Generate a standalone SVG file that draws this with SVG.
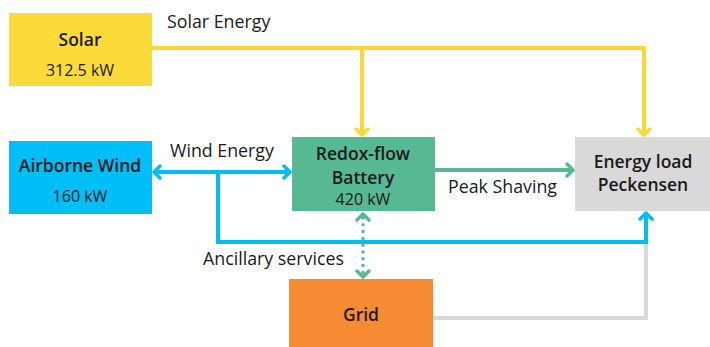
<svg xmlns="http://www.w3.org/2000/svg" width="710" height="347" viewBox="0 0 710 347">
<defs>
<style>
text{font-family:"Open Sans","Noto Sans","DejaVu Sans",sans-serif;fill:#1a1a1a}
.t{font-size:17.5px;font-weight:600;text-anchor:middle}
.v{font-size:16px;text-anchor:middle}
.l{font-size:17.8px}
.c{fill:none;stroke-width:4}
</style>
<marker id="ay" markerUnits="userSpaceOnUse" markerWidth="16" markerHeight="16" viewBox="0 0 16 16" refX="13" refY="8" orient="auto-start-reverse"><path d="M7,2 L13,8 L7,14" fill="none" stroke="#FBD834" stroke-width="3.5" stroke-linecap="round" stroke-linejoin="round"/></marker>
<marker id="ab" markerUnits="userSpaceOnUse" markerWidth="16" markerHeight="16" viewBox="0 0 16 16" refX="13" refY="8" orient="auto-start-reverse"><path d="M7,2 L13,8 L7,14" fill="none" stroke="#00BDF5" stroke-width="3.5" stroke-linecap="round" stroke-linejoin="round"/></marker>
<marker id="ag" markerUnits="userSpaceOnUse" markerWidth="16" markerHeight="16" viewBox="0 0 16 16" refX="13" refY="8" orient="auto-start-reverse"><path d="M7,2 L13,8 L7,14" fill="none" stroke="#57B894" stroke-width="3.5" stroke-linecap="round" stroke-linejoin="round"/></marker>
</defs>
<rect width="710" height="347" fill="#ffffff"/>
<g id="connectors">
<path class="c" d="M433,318 H646 V244" stroke="#D9D9D9"/>
<path class="c" d="M152,48 H644 V135" stroke="#FBD834" marker-end="url(#ay)"/>
<path class="c" d="M362,48 V135" stroke="#FBD834" marker-end="url(#ay)"/>
<path class="c" d="M154,172 H290" stroke="#00BDF5" marker-start="url(#ab)" marker-end="url(#ab)"/>
<path class="c" d="M218,172 V242 H646 V213" stroke="#00BDF5" marker-end="url(#ab)"/>
<path class="c" d="M435,170 H573" stroke="#57B894" marker-end="url(#ag)"/>
<path d="M363,218 V273" fill="none" stroke="#57B894" stroke-width="3.5" stroke-linecap="round" stroke-dasharray="0 6.8"/>
<path d="M363,214 V277" fill="none" stroke="none" marker-start="url(#ag)" marker-end="url(#ag)"/>
<text class="l" x="167" y="28">Solar Energy</text>
<text class="l" x="170" y="157">Wind Energy</text>
<text class="l" x="448" y="193">Peak Shaving</text>
<text class="l" x="203" y="265">Ancillary services</text>
</g>
<g id="solar">
<rect x="9" y="13" width="143" height="73" fill="#FCDA3A"/>
<text class="t" x="80" y="46">Solar</text>
<text class="v" x="80" y="76">312.5 kW</text>
</g>
<g id="wind">
<rect x="9" y="141" width="143" height="73" fill="#00BEF7"/>
<text class="t" x="80" y="172">Airborne Wind</text>
<text class="v" x="80" y="202">160 kW</text>
</g>
<g id="battery">
<rect x="292" y="137" width="143" height="74" fill="#57B894"/>
<text class="t" x="363" y="160">Redox-flow</text>
<text class="t" x="363" y="184">Battery</text>
<text class="v" x="363" y="205">420 kW</text>
</g>
<g id="load">
<rect x="575" y="137" width="135" height="74" fill="#D9D9D9"/>
<text class="t" x="643" y="168">Energy load</text>
<text class="t" x="643" y="191">Peckensen</text>
</g>
<g id="grid">
<rect x="289" y="279" width="144" height="68" fill="#F68B33"/>
<text class="t" x="361" y="321">Grid</text>
</g>
</svg>
